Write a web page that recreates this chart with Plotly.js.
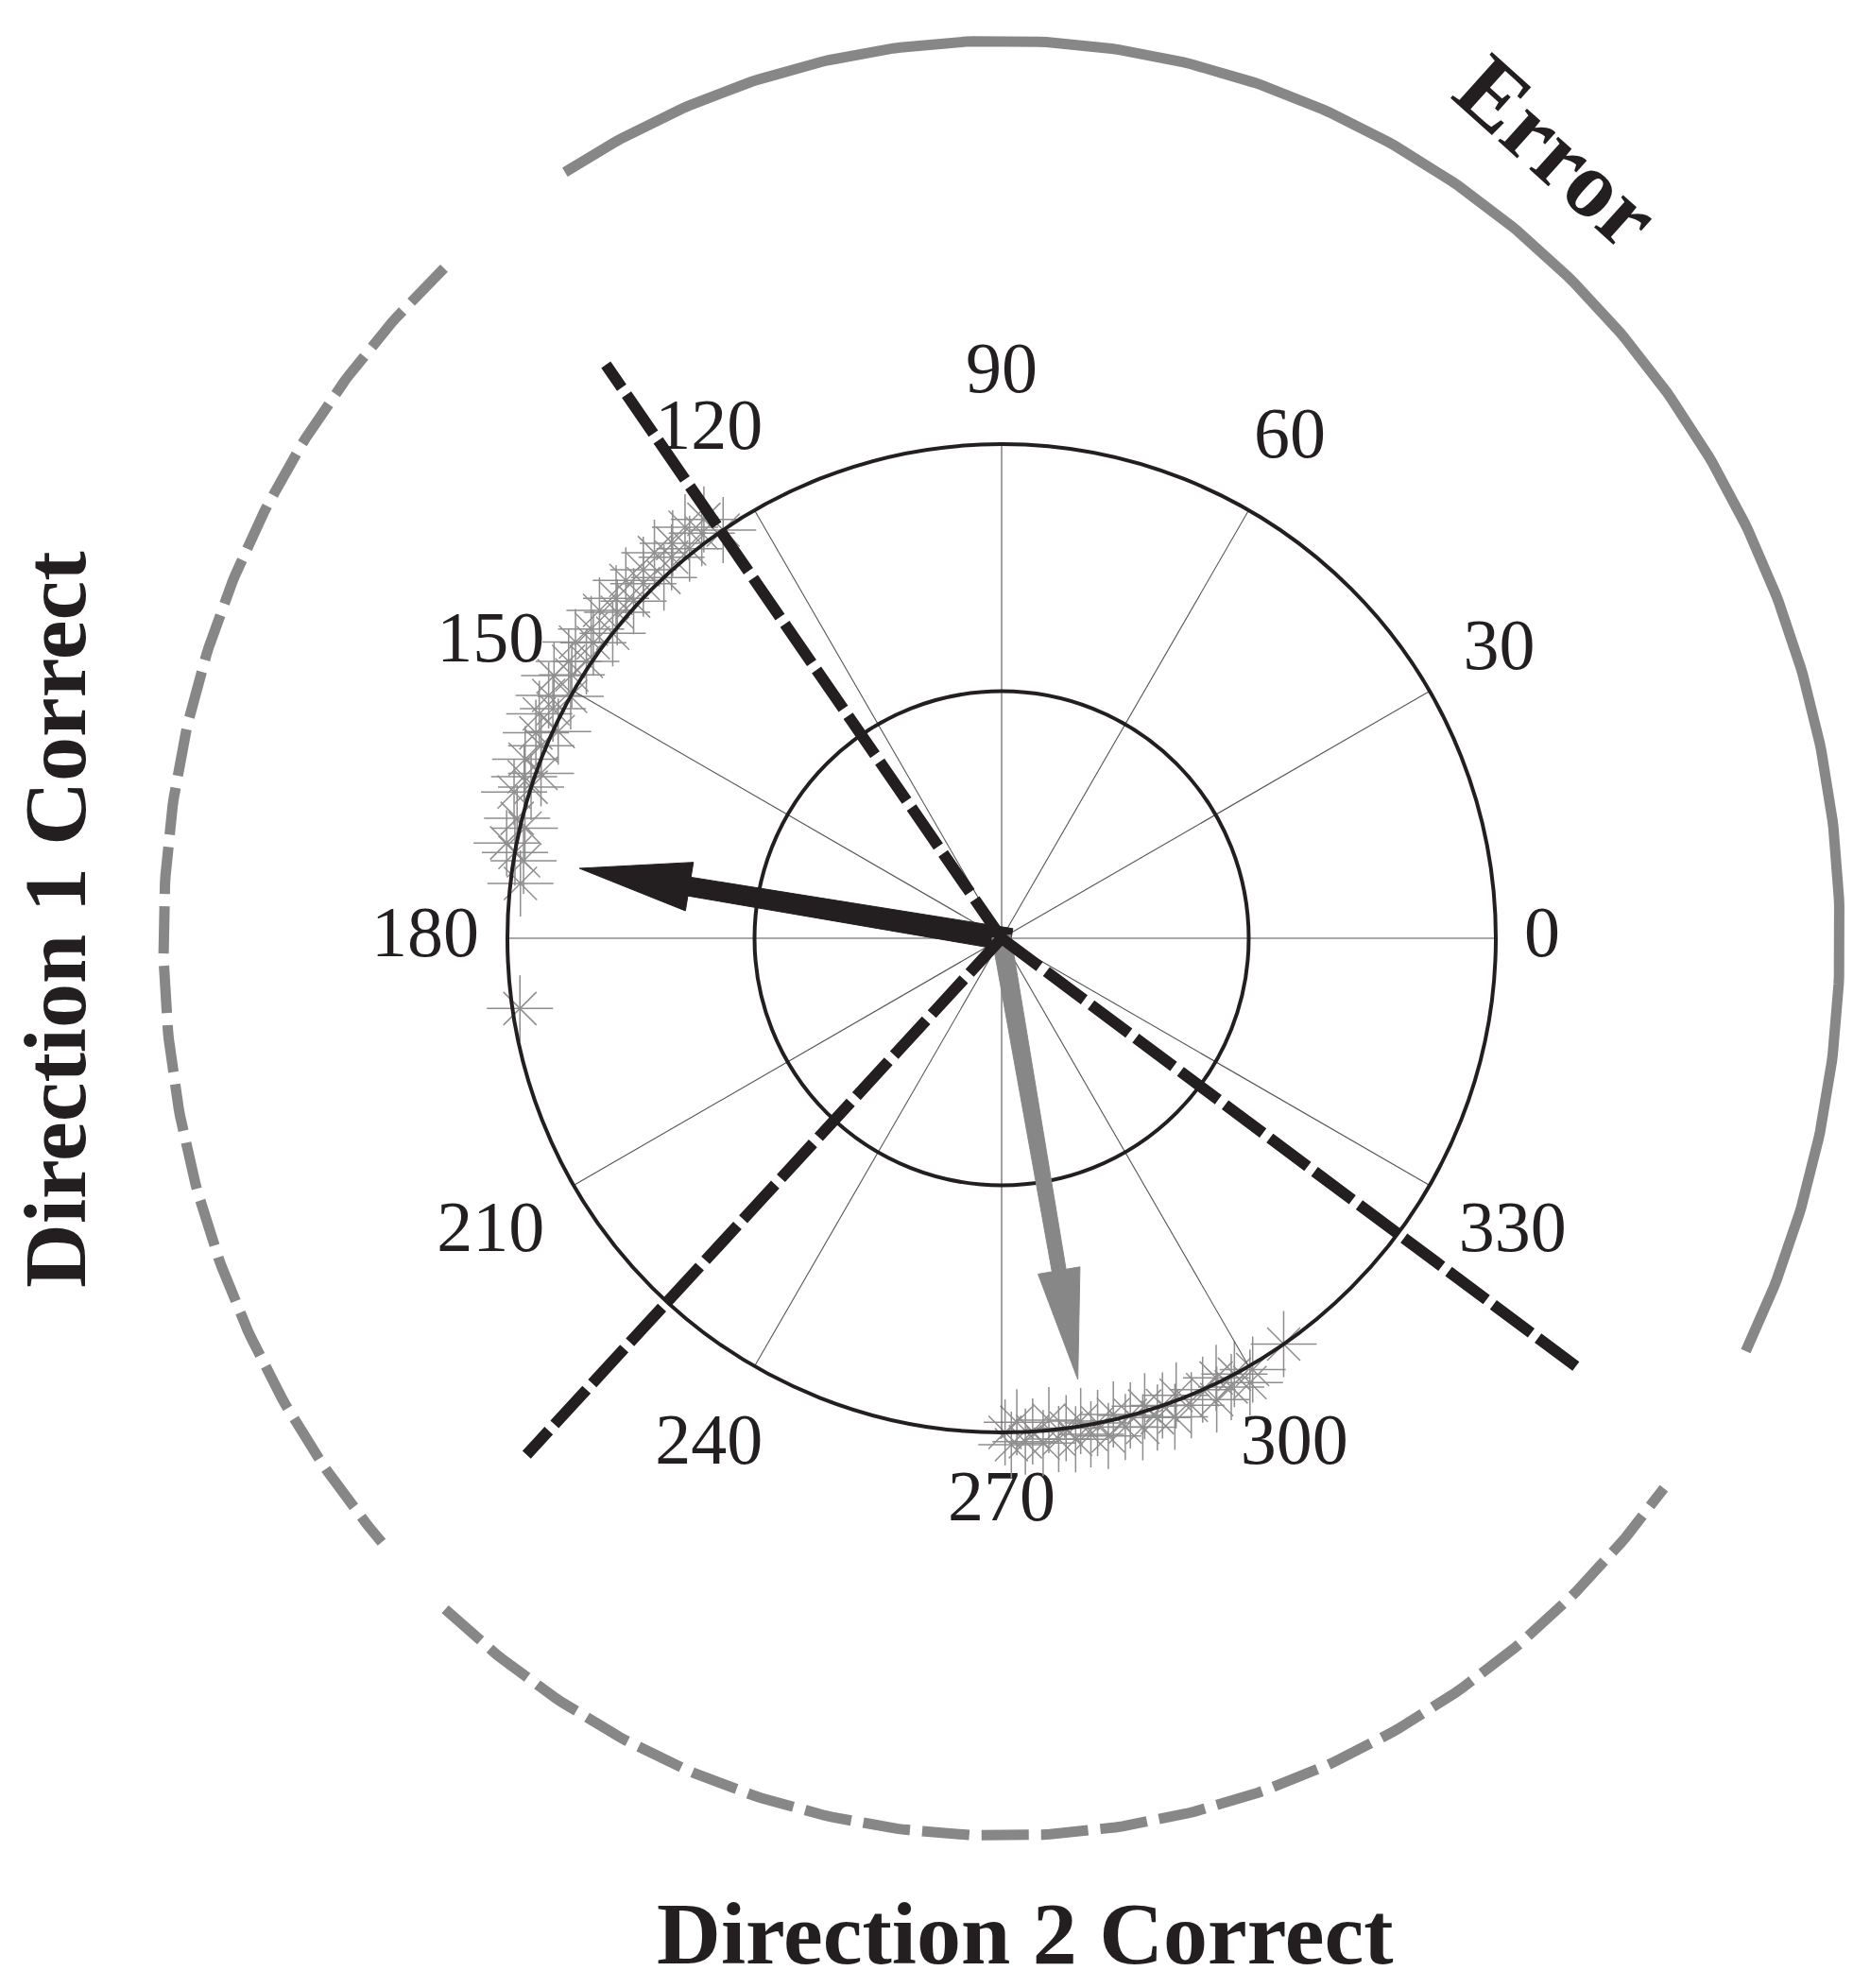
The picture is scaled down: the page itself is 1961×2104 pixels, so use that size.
<!DOCTYPE html>
<html><head><meta charset="utf-8">
<script src="https://cdn.plot.ly/plotly-3.0.1.min.js"></script>
<style>html,body{margin:0;padding:0;background:#fff}#chart{width:1961px;height:2104px}</style>
</head><body><div id="chart"></div>
<script>
// ---------------- data ----------------
var angleTicks = [0, 30, 60, 90, 120, 150, 180, 210, 240, 270, 300, 330];
var angleTickLabels = ['0', '30', '60', '90', '120', '150', '180', '210', '240', '270', '300', '330'];

// samples of direction 1 (upper-left cluster)
var dir1SampleTheta = [124.3, 125.4, 126.5, 127.6, 128.7, 129.8, 130.9, 132.0, 133.1, 134.2,
                       135.3, 136.4, 137.5, 138.6, 139.7, 140.8, 141.9, 143.0, 144.1, 145.2,
                       146.3, 147.4, 148.5, 149.6, 150.7, 151.8, 152.9, 154.1, 155.0, 156.2,
                       157.3, 159.4, 160.3, 161.3, 162.2, 163.3, 166.1, 167.0, 169.1, 170.0,
                       170.8, 173.5, 188.3];
var dir1SampleR = [1.00, 1.04, 1.02, 1.05, 1.01, 1.04, 1.02, 1.05, 1.00, 1.04,
                   1.02, 1.05, 1.01, 1.04, 1.02, 1.05, 1.00, 1.04, 1.02, 1.05,
                   1.01, 1.04, 1.02, 1.05, 1.00, 1.04, 1.02, 1.04, 0.99, 1.03,
                   1.01, 1.03, 0.99, 1.02, 1.00, 1.03, 1.01, 0.99, 1.02, 1.00,
                   0.98, 0.98, 0.985];

// samples of direction 2 (lower cluster)
var dir2SampleTheta = [270.4, 271.1, 271.8, 272.7, 273.6, 274.7, 275.6, 276.5, 277.5, 278.4,
                       279.3, 280.2, 281.2, 282.1, 283.2, 284.2, 285.1, 286.1, 287.0, 288.0,
                       289.0, 289.9, 290.9, 292.1, 294.0, 295.0, 296.0, 297.1, 298.1, 299.2,
                       300.2, 304.8];
var dir2SampleR = [1.00, 1.025, 0.98, 1.02, 1.00, 1.025, 0.98, 1.02, 1.00, 1.025,
                   0.99, 1.02, 1.00, 1.03, 0.99, 1.02, 1.00, 1.03, 0.99, 1.02,
                   1.00, 1.03, 0.99, 1.02, 1.00, 1.03, 0.99, 1.02, 1.00, 1.03,
                   1.01, 1.00];

// mean direction arrows
var meanNames = ['Direction 1 mean', 'Direction 2 mean'];
var meanTheta = [170.6, 279.8];
var meanLength = [0.866, 0.906];

// decision boundaries (dashed rays)
var boundaryTheta = [124.6, 227.4, 323.3];
var boundaryLength = [1.41, 1.42, 1.45];

// outer region arcs (degrees)
var regionNames = ['Error', 'Direction 1 Correct', 'Direction 2 Correct'];
var regionStart = [-27.4, 131.7, 228.4];
var regionEnd = [121.4, 222.3, 322.2];

// ---------------- layout constants ----------------
var W = 1961, H = 2104;
var CX = 1060, CY = 993, RPX = 523;       // polar centre and radius in px
var ELL_A = 1.696, ELL_B = 1.816;         // outer region ellipse, in polar radii
var BLACK = '#231f20', GREY = '#878787', MARKGREY = '#8e8e8e';
var D2R = Math.PI / 180;
var LABEL_FONT = 76, LABEL_PAD = 30;

var polarDomX = [(CX - RPX) / W, (CX + RPX) / W];
var polarDomY = [(H - CY - RPX) / H, (H - CY + RPX) / H];
var xRange = [-CX / RPX, (W - CX) / RPX];
var yRange = [-(H - CY) / RPX, CY / RPX];

var traces = [];

// outer arcs (cartesian, below the polar layer)
regionNames.forEach(function (name, i) {
  var xs = [], ys = [];
  var a0 = regionStart[i], a1 = regionEnd[i];
  var n = Math.ceil((a1 - a0) / 0.5);
  for (var k = 0; k <= n; k++) {
    var a = (a0 + (a1 - a0) * k / n) * D2R;
    xs.push(ELL_A * Math.cos(a));
    ys.push(ELL_B * Math.sin(a));
  }
  traces.push({
    type: 'scatter', mode: 'lines', x: xs, y: ys, name: name,
    line: {color: GREY, width: 11, dash: i === 0 ? 'solid' : '50px,13px'},
    hoverinfo: 'skip', showlegend: false, cliponaxis: false
  });
});

// angular tick labels, centred just outside the rim
var labX = [], labY = [];
angleTicks.forEach(function (t, i) {
  var a = t * D2R, c = Math.abs(Math.cos(a)), s = Math.abs(Math.sin(a));
  var halfW = angleTickLabels[i].length * 0.25 * LABEL_FONT;
  var halfH = 0.58 * LABEL_FONT;
  var rr = 1 + (LABEL_PAD + halfW * c + halfH * s) / RPX;
  labX.push(rr * Math.cos(a));
  labY.push(rr * Math.sin(a));
});
traces.push({
  type: 'scatter', mode: 'text', x: labX, y: labY, text: angleTickLabels,
  textposition: 'middle center', cliponaxis: false,
  textfont: {family: 'Liberation Serif, Times New Roman, serif', size: LABEL_FONT, color: BLACK},
  hoverinfo: 'skip', showlegend: false
});

// sample markers (cartesian, computed from polar values)
function toXY(rArr, tArr) {
  return {
    x: rArr.map(function (r, k) { return r * Math.cos(tArr[k] * D2R); }),
    y: rArr.map(function (r, k) { return r * Math.sin(tArr[k] * D2R); })
  };
}
[[dir1SampleR, dir1SampleTheta], [dir2SampleR, dir2SampleTheta]].forEach(function (s) {
  var p = toXY(s[0], s[1]);
  traces.push({type: 'scatter', mode: 'markers', x: p.x, y: p.y, showlegend: false, hoverinfo: 'skip',
    cliponaxis: false,
    marker: {symbol: 'cross-thin-open', size: 50, color: MARKGREY, line: {color: MARKGREY, width: 1.5}}});
  traces.push({type: 'scatter', mode: 'markers', x: p.x, y: p.y, showlegend: false, hoverinfo: 'skip',
    cliponaxis: false,
    marker: {symbol: 'x-thin-open', size: 35, color: MARKGREY, line: {color: MARKGREY, width: 1.5}}});
});

// mean arrows (polar filled polygons)
var arrowStyle = [
  {color: BLACK, baseW: 24, neckW: 20, headLen: 118, headW: 52, tail: 10},
  {color: GREY,  baseW: 20, neckW: 15, headLen: 117, headW: 45, tail: 2}
];
function arrowPolygon(thetaDeg, len, st) {
  var t = thetaDeg * D2R, ux = Math.cos(t), uy = Math.sin(t), px = -uy, py = ux;
  var hl = st.headLen / RPX, neck = len - hl;
  var pts = [[-st.tail / RPX, st.baseW / 2 / RPX], [neck, st.neckW / 2 / RPX], [neck, st.headW / 2 / RPX],
             [len, 0], [neck, -st.headW / 2 / RPX], [neck, -st.neckW / 2 / RPX], [-st.tail / RPX, -st.baseW / 2 / RPX]];
  var rr = [], tt = [];
  pts.forEach(function (p) {
    var x = p[0] * ux + p[1] * px, y = p[0] * uy + p[1] * py;
    rr.push(Math.sqrt(x * x + y * y));
    tt.push(Math.atan2(y, x) / D2R);
  });
  rr.push(rr[0]); tt.push(tt[0]);
  return {r: rr, theta: tt};
}
meanNames.forEach(function (name, i) {
  var poly = arrowPolygon(meanTheta[i], meanLength[i], arrowStyle[i]);
  traces.push({
    type: 'scatterpolar', subplot: 'polar', mode: 'lines', r: poly.r, theta: poly.theta, name: name,
    fill: 'toself', fillcolor: arrowStyle[i].color, line: {color: arrowStyle[i].color, width: 1},
    showlegend: false, hoverinfo: 'skip'
  });
});

// dashed boundary rays: drawn above the polar frame, on the shared cartesian scale
var shapes = boundaryTheta.map(function (t, i) {
  return {
    type: 'line', xref: 'x', yref: 'y', layer: 'above',
    x0: 0, y0: 0,
    x1: boundaryLength[i] * Math.cos(t * D2R), y1: boundaryLength[i] * Math.sin(t * D2R),
    line: {color: BLACK, width: 12, dash: '50px,9px'}
  };
});

var serif = 'Liberation Serif, Times New Roman, serif';
var layout = {
  width: W, height: H,
  margin: {l: 0, r: 0, t: 0, b: 0, pad: 0},
  paper_bgcolor: '#ffffff', plot_bgcolor: 'rgba(0,0,0,0)',
  showlegend: false,
  xaxis: {domain: [0, 1], range: xRange, visible: false, fixedrange: true},
  yaxis: {domain: [0, 1], range: yRange, visible: false, fixedrange: true},
  polar: {
    domain: {x: polarDomX, y: polarDomY},
    bgcolor: 'rgba(0,0,0,0)',
    angularaxis: {
      rotation: 0, direction: 'counterclockwise', thetaunit: 'degrees',
      tickmode: 'array', tickvals: angleTicks, ticktext: angleTickLabels,
      showticklabels: false, ticks: '',
      showline: true, linecolor: BLACK, linewidth: 4,
      showgrid: true, gridcolor: '#555555', gridwidth: 1.1,
      layer: 'below traces'
    },
    radialaxis: {
      range: [0, 1], tickmode: 'array', tickvals: [0.5], showticklabels: false, ticks: '',
      showline: false, showgrid: true, gridcolor: BLACK, gridwidth: 4,
      layer: 'below traces'
    }
  },
  shapes: shapes,
  annotations: [
    {text: '<b>Error</b>', xref: 'paper', yref: 'paper', x: 1648 / W, y: (H - 161) / H,
     xanchor: 'center', yanchor: 'middle', textangle: 42, showarrow: false,
     font: {family: serif, size: 100, color: BLACK}},
    {text: '<b>Direction 1 Correct</b>', xref: 'paper', yref: 'paper', x: 58 / W, y: (H - 973) / H,
     xanchor: 'center', yanchor: 'middle', textangle: -90, showarrow: false,
     font: {family: serif, size: 94, color: BLACK}},
    {text: '<b>Direction 2 Correct</b>', xref: 'paper', yref: 'paper', x: 1085 / W, y: (H - 2046) / H,
     xanchor: 'center', yanchor: 'middle', showarrow: false,
     font: {family: serif, size: 94, color: BLACK}}
  ]
};

Plotly.newPlot('chart', traces, layout, {displayModeBar: false, staticPlot: true});
</script>
</body></html>
